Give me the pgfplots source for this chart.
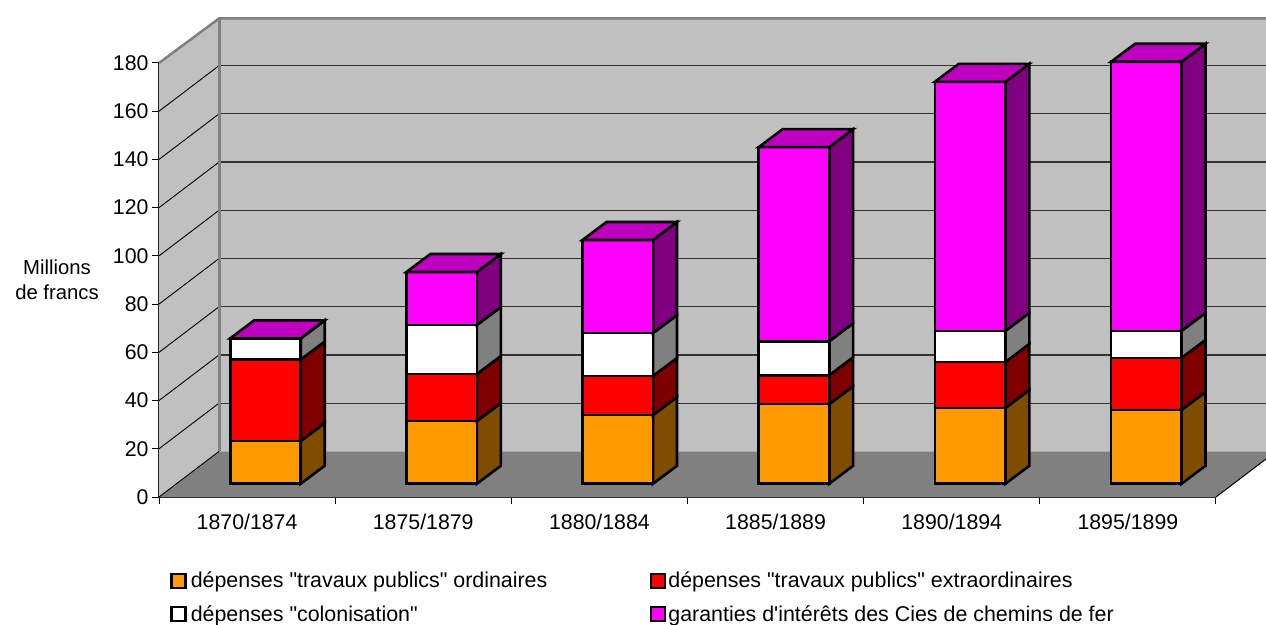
\documentclass[border=0pt]{standalone}
\usepackage{pgfplots}
\pgfplotsset{compat=1.18}
\usepackage{fontspec}
\setmainfont{Liberation Sans}
\newfontfamily\plainfont{Liberation Sans}
\definecolor{cwall}{HTML}{C0C0C0}
\definecolor{cfloor}{HTML}{808080}
\definecolor{cor}{HTML}{FF9900}
\definecolor{cors}{HTML}{804D00}
\definecolor{cre}{HTML}{FF0000}
\definecolor{cres}{HTML}{800000}
\definecolor{cwh}{HTML}{FFFFFF}
\definecolor{cwhs}{HTML}{808080}
\definecolor{cma}{HTML}{FF00FF}
\definecolor{cmas}{HTML}{800080}
\definecolor{cmat}{HTML}{C000C0}
% depth of the plot box, in axis units
\def\dx{0.3406}\def\dy{18.9}
% bar geometry, in axis units
\def\hw{0.2}\def\bo{0.1044}\def\bdx{0.1362}\def\bdy{7.466}\def\base{5.5}
\def\bw{2.6pt}
\newcommand{\seg}[3]{% height, front colour, side colour
  \pgfmathsetmacro\ya{\cur}%
  \pgfmathsetmacro\yb{\cur+#1}%
  \pgfmathsetmacro\yas{\ya+\bdy}%
  \pgfmathsetmacro\ybs{\yb+\bdy}%
  \addplot[fill=#3,draw=black,line width=\bw,forget plot] coordinates {(\xr,\ya)(\xs,\yas)(\xs,\ybs)(\xr,\yb)} -- cycle;
  \addplot[fill=#2,draw=black,line width=\bw,forget plot] coordinates {(\xl,\ya)(\xr,\ya)(\xr,\yb)(\xl,\yb)} -- cycle;
  \global\let\cur\yb
}
\newcommand{\stackbar}[5]{% index, ordinary, extraordinary, colonisation, guarantees
  \pgfmathsetmacro\xl{#1+0.5+\bo-\hw}%
  \pgfmathsetmacro\xr{#1+0.5+\bo+\hw}%
  \pgfmathsetmacro\xs{\xr+\bdx}%
  \pgfmathsetmacro\xt{\xl+\bdx}%
  \global\let\cur\base
  \seg{#2}{cor}{cors}%
  \seg{#3}{cre}{cres}%
  \seg{#4}{cwh}{cwhs}%
  \seg{#5}{cma}{cmas}%
  \pgfmathsetmacro\ybs{\cur+\bdy}%
  \addplot[fill=cmat,draw=black,line width=\bw,forget plot] coordinates {(\xl,\cur)(\xr,\cur)(\xs,\ybs)(\xt,\ybs)} -- cycle;
}
\newcommand{\gridat}[1]{%
  \pgfmathsetmacro\gy{#1+\dy}%
  \addplot[black,line width=0.9pt,forget plot] coordinates {(0,#1)(\dx,\gy)};
  \ifnum#1>0
  \addplot[black!80,line width=1.2pt,forget plot] coordinates {(\dx,\gy)(6+\dx,\gy)};
  \fi
}
\begin{document}
\begin{tikzpicture}
\useasboundingbox (0,0) rectangle (1266pt,624pt);
\clip (0,0) rectangle (1266pt,624pt);
\begin{axis}[
  at={(159pt,127pt)},anchor=south west,
  scale only axis,width=1057pt,height=434pt,
  xmin=0,xmax=6,ymin=0,ymax=180,
  clip=false,
  axis lines*=left,
  axis line style={black!85,line width=1.3pt},
  tick align=outside,major tick length=7pt,
  tick style={black,line width=1pt},
  xtick={0,1,2,3,4,5,6},
  xticklabels={1870/1874,1875/1879,1880/1884,1885/1889,1890/1894,1895/1899},
  x tick label as interval,
  xticklabel style={yshift=-7pt},
  ytick={0,20,40,60,80,100,120,140,160,180},
  /pgf/number format/assume math mode=true,
  tick label style={font=\fontsize{21.3}{25}\selectfont},
  ylabel={Millions\\de francs},
  ylabel style={at={(axis description cs:-0.0965,0.4995)},rotate=-90,anchor=center,align=center,font=\fontsize{20.3}{25}\selectfont},
  legend columns=2,
  legend style={at={(0.0104,-0.1682)},anchor=north west,draw=none,fill=none,inner sep=0pt,
    font=\plainfont\fontsize{21.4}{25}\selectfont,row sep=12pt,
    cells={anchor=west}},
  legend image code/.code={\draw[line width=\bw,#1] (0pt,-7pt) rectangle (14pt,7pt);},
]
% walls and floor
\addplot[fill=cwall,draw=none,forget plot] coordinates {(0,0)(\dx,\dy)(\dx,198.46)(0,180)} -- cycle;
\addplot[fill=cwall,draw=none,forget plot] coordinates {(\dx,\dy)(6.3406,\dy)(6.3406,198.46)(\dx,198.46)} -- cycle;
\addplot[fill=cfloor,draw=none,forget plot] coordinates {(0,0)(\dx,\dy)(6.3406,\dy)(6,0)} -- cycle;
\gridat{0}\gridat{20}\gridat{40}\gridat{60}\gridat{80}\gridat{100}\gridat{120}\gridat{140}\gridat{160}
\addplot[cfloor,line width=2.5pt,forget plot] coordinates {(0,180)(\dx,198.46)(6.3406,198.46)};
\addplot[cfloor,line width=3pt,forget plot] coordinates {(\dx,198.46)(\dx,\dy)};
\addplot[black,line width=1pt,forget plot] coordinates {(6,0)(6.3406,\dy)};
% bars
\stackbar{0}{17.7}{33.8}{8.8}{0}
\stackbar{1}{26}{19.5}{20.3}{22}
\stackbar{2}{28.5}{16.2}{17.8}{38.6}
\stackbar{3}{33}{12}{14.1}{80.5}
\stackbar{4}{31.4}{19.1}{12.9}{103.3}
\stackbar{5}{30.6}{21.6}{11.2}{111.6}
% legend
\addlegendimage{fill=cor,draw=black}
\addlegendimage{fill=cre,draw=black}
\addlegendimage{fill=cwh,draw=black}
\addlegendimage{fill=cma,draw=black}
\addlegendentry{\makebox[459pt][l]{\hspace{2pt}dépenses "travaux publics" ordinaires}}
\addlegendentry{dépenses "travaux publics" extraordinaires}
\addlegendentry{\makebox[459pt][l]{\hspace{2pt}dépenses "colonisation"}}
\addlegendentry{garanties d'intérêts des Cies de chemins de fer}
\end{axis}
\end{tikzpicture}
\end{document}
